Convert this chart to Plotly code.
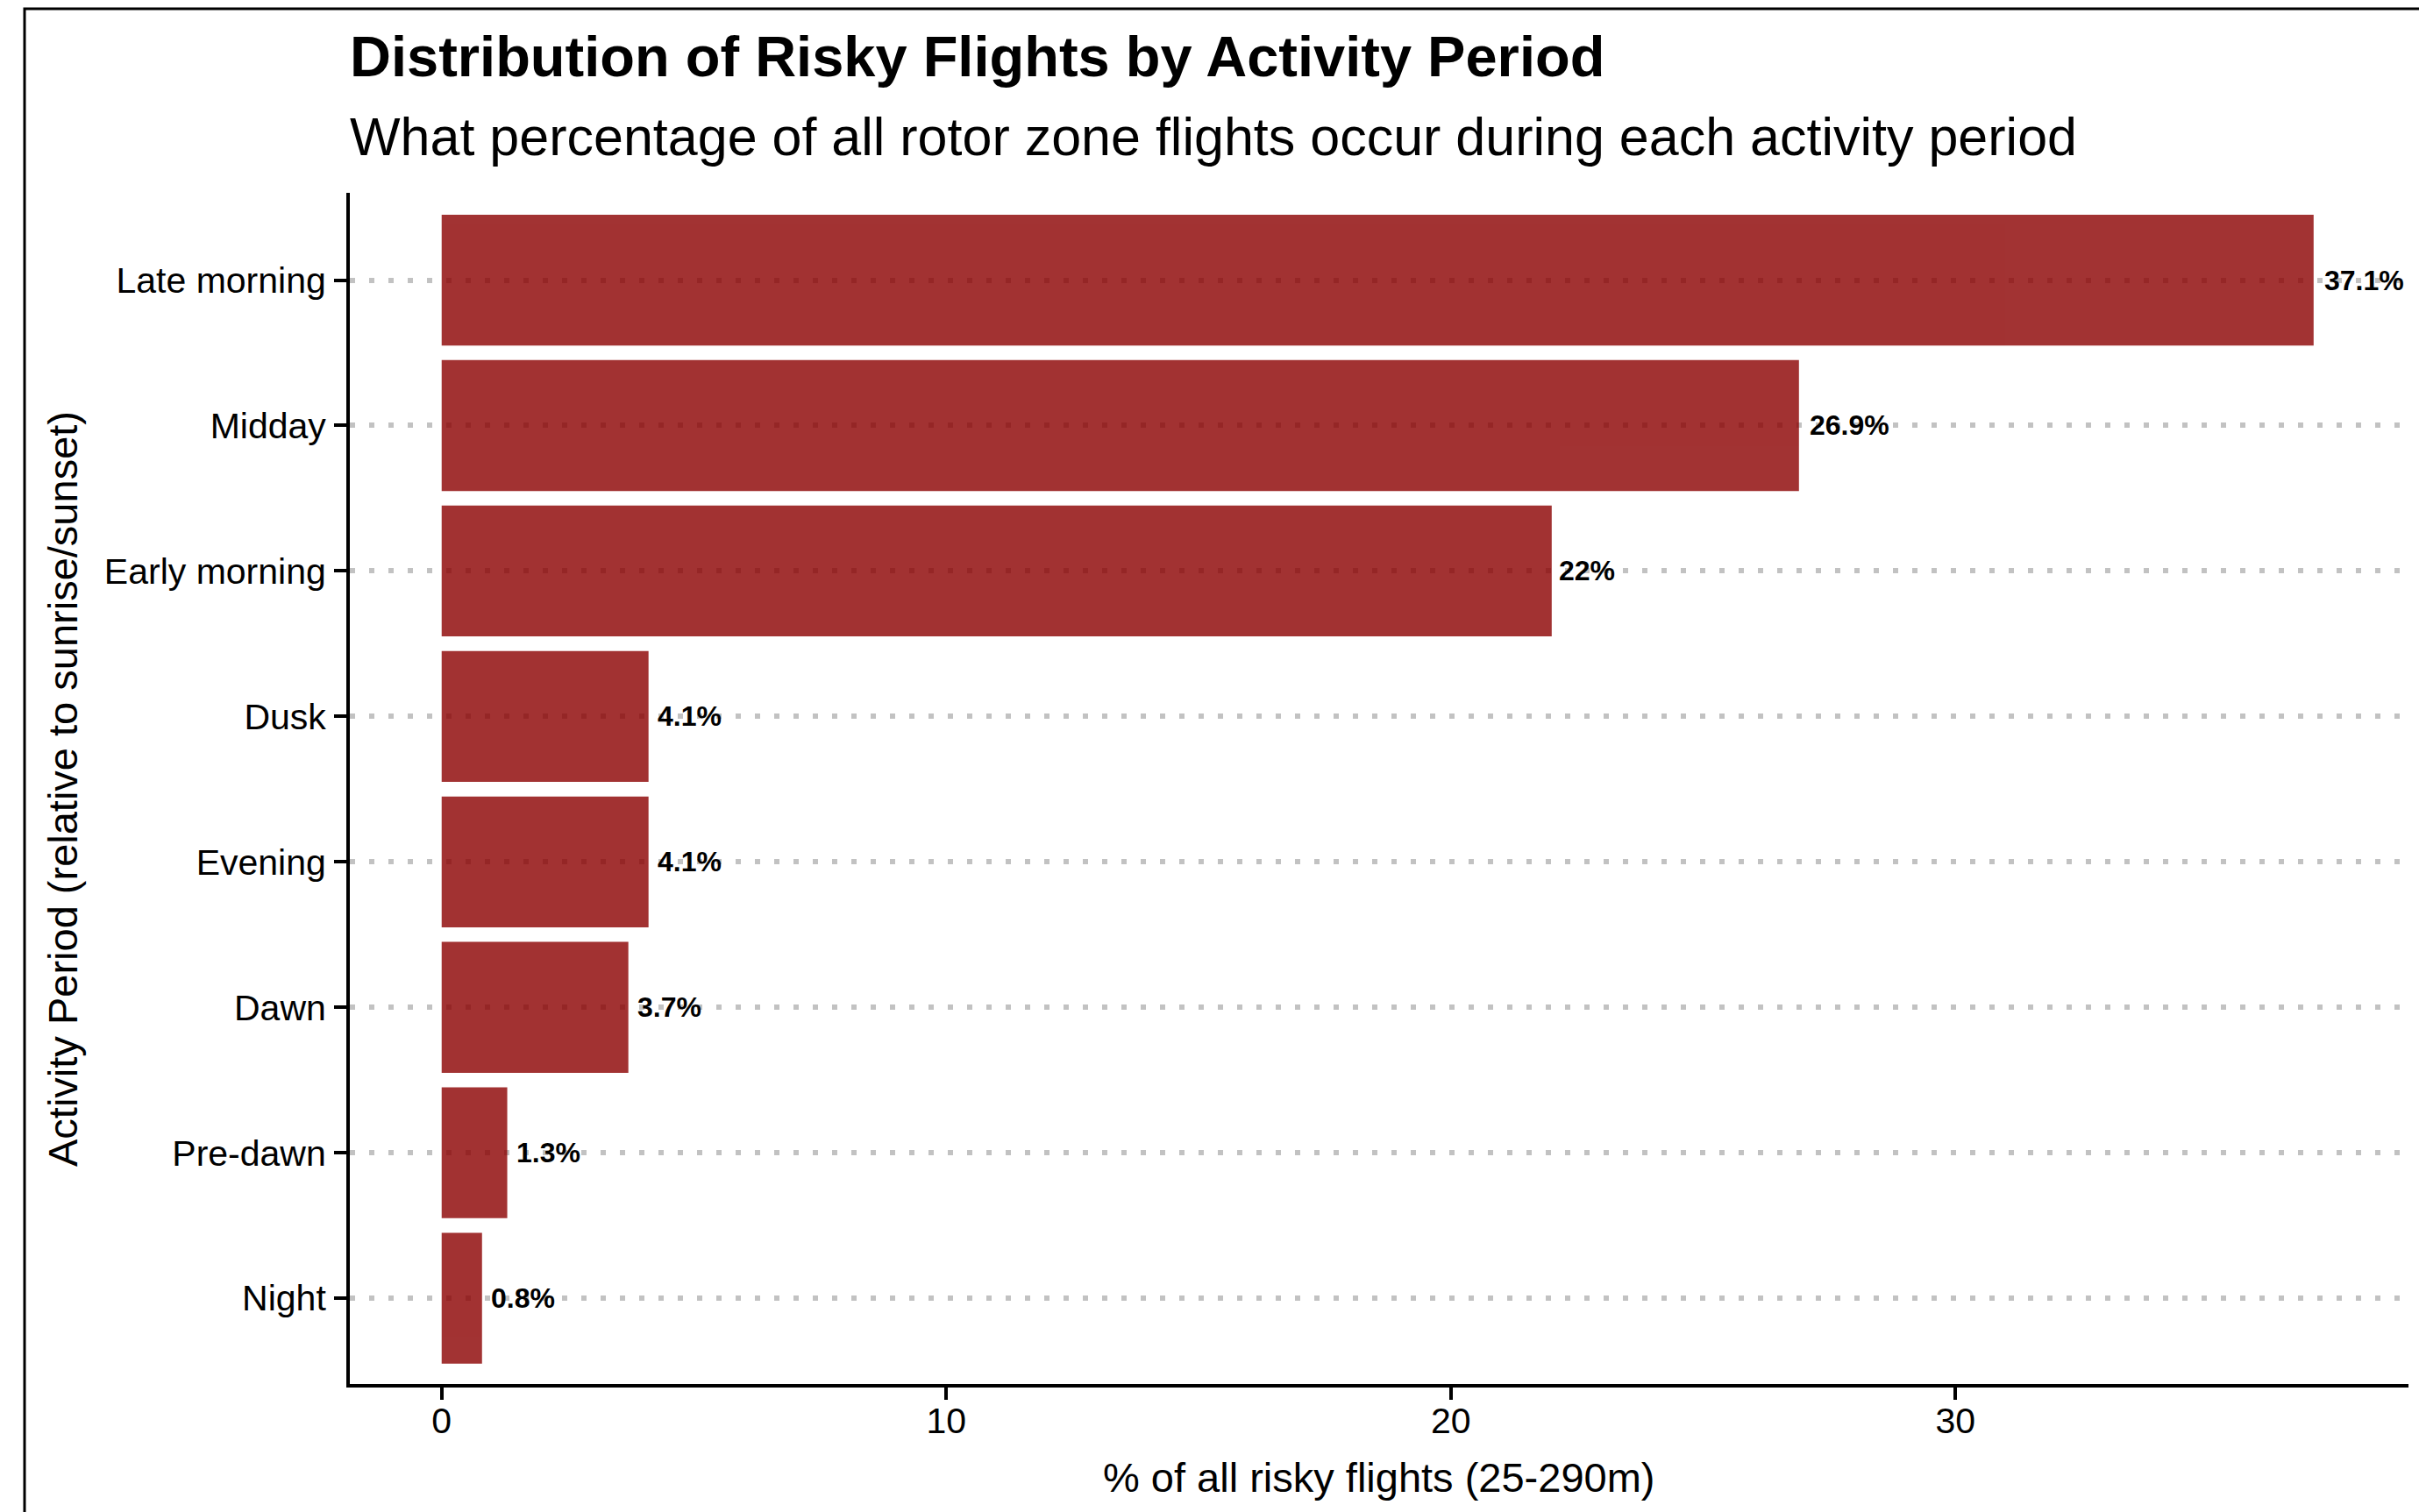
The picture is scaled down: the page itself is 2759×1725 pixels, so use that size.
import plotly.graph_objects as go

# Activity periods, bottom to top, and share of all risky rotor-zone flights (%)
periods = ["Night", "Pre-dawn", "Dawn", "Evening", "Dusk",
           "Early morning", "Midday", "Late morning"]
shares = [0.8, 1.3, 3.7, 4.1, 4.1, 22.0, 26.9, 37.1]
x_ticks = [0, 10, 20, 30]

title = "<b>Distribution of Risky Flights by Activity Period</b>"
subtitle = "What percentage of all rotor zone flights occur during each activity period"
x_title = "% of all risky flights (25-290m)"
y_title = "Activity Period (relative to sunrise/sunset)"

W, H = 2759, 1725
L, R, T, B = 399, 12, 220, 146
FONT = "Liberation Sans, Arial, Helvetica, sans-serif"
BAR_COLOR = "#8B0000"


def px(xp, yp):
    """Convert figure pixel position to paper coordinates."""
    return (xp - L) / (W - L - R), (H - B - yp) / (H - T - B)


labels = [f"{v:g}%" for v in shares]

fig = go.Figure(
    go.Bar(
        x=shares,
        y=periods,
        orientation="h",
        width=0.9,
        marker=dict(color=BAR_COLOR, line=dict(width=0)),
        opacity=0.8,
        hoverinfo="skip",
    )
)

# value labels just past the end of each bar
for v, p, lab in zip(shares, periods, labels):
    fig.add_annotation(
        x=v, y=p, xref="x", yref="y", text=f"<b>{lab}</b>",
        showarrow=False, xanchor="left", yanchor="middle",
        xshift=1 + 0.1 * 18 * len(lab),
        font=dict(family=FONT, size=32, color="black"),
    )

tx, ty = px(397, 64)
fig.add_annotation(x=tx, y=ty, xref="paper", yref="paper", text=title,
                   showarrow=False, xanchor="left", yanchor="middle",
                   font=dict(family=FONT, size=65, color="black"))
sx, sy = px(397, 156)
fig.add_annotation(x=sx, y=sy, xref="paper", yref="paper", text=subtitle,
                   showarrow=False, xanchor="left", yanchor="middle",
                   font=dict(family=FONT, size=61, color="black"))
ax, ay = px((397 + 2747) / 2, 1685)
fig.add_annotation(x=ax, y=ay, xref="paper", yref="paper", text=x_title,
                   showarrow=False, xanchor="center", yanchor="middle",
                   font=dict(family=FONT, size=47, color="black"))
yx, yy = px(71, 900)
fig.add_annotation(x=yx, y=yy, xref="paper", yref="paper", text=y_title,
                   showarrow=False, xanchor="center", yanchor="middle",
                   textangle=-90,
                   font=dict(family=FONT, size=47, color="black"))

# outer frame of the plot background (top and left edges visible)
fx0, fy0 = px(28, 10)
fx1, fy1 = px(W + 40, H + 40)
fig.add_shape(type="rect", xref="paper", yref="paper",
              x0=fx0, y0=fy1, x1=fx1, y1=fy0,
              line=dict(color="black", width=3), fillcolor="rgba(0,0,0,0)",
              layer="above")

fig.update_layout(
    width=W, height=H,
    margin=dict(l=L, r=R, t=T, b=B, pad=0),
    paper_bgcolor="white", plot_bgcolor="white",
    showlegend=False,
    font=dict(family=FONT, color="black"),
    bargap=0.1,
)
fig.update_xaxes(
    range=[-1.82, 38.98],
    tickmode="array", tickvals=x_ticks, ticktext=[str(t) for t in x_ticks],
    showgrid=False, zeroline=False,
    showline=True, linecolor="black", linewidth=4,
    ticks="outside", ticklen=14, tickwidth=4, tickcolor="black",
    tickfont=dict(family=FONT, size=41, color="black"),
    ticklabelstandoff=-11,
)
fig.update_yaxes(
    type="category", categoryorder="array", categoryarray=periods,
    range=[-0.59, 7.6],
    showgrid=True, gridcolor="#C2C2C2", gridwidth=5.5, griddash="5.5px,16.5px",
    zeroline=False,
    showline=True, linecolor="black", linewidth=4,
    ticks="outside", ticklen=14, tickwidth=4, tickcolor="black",
    tickfont=dict(family=FONT, size=41, color="black"),
    ticklabelstandoff=1,
)

fig.write_html("out.html")
